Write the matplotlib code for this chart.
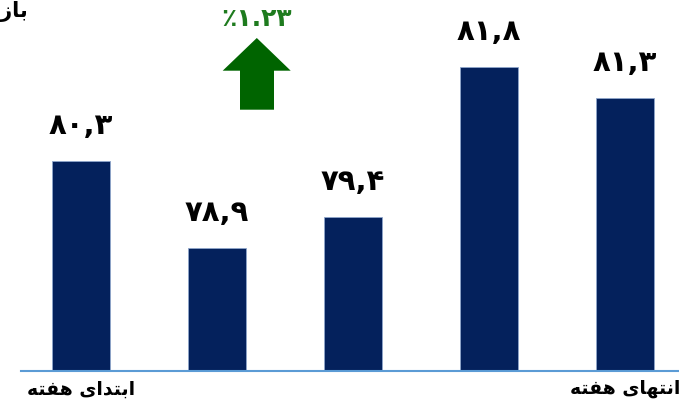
import matplotlib
matplotlib.use("Agg")
import matplotlib.pyplot as plt
from matplotlib.patches import Polygon
import numpy as np

# bar values (weekly index)
values = [80.3, 78.9, 79.4, 81.8, 81.3]
# bottom labels, written in presentation forms in visual order (no bidi shaping in matplotlib)
label_start = "\uFEEA\uFE98\uFED4\uFEEB \uFEEF\uFE8D\uFEAA\uFE98\uFE91\uFE8D"   # ابتدای هفته
label_end = "\uFEEA\uFE98\uFED4\uFEEB \uFEEF\uFE8E\uFEEC\uFE98\uFEE7\uFE8D"     # انتهای هفته
bottom_labels = [label_start, "", "", "", label_end]
title_text = "\uFEAD\uFE8D\uFEAF\uFE8E\uFE91"   # بازار (cut off at left edge, as in the original)
change_text = "\u066A\u06F1.\u06F2\u06F3"        # ٪۱.۲۳

persian = str.maketrans("0123456789", "\u06F0\u06F1\u06F2\u06F3\u06F4\u06F5\u06F6\u06F7\u06F8\u06F9")


def to_fa(v):
    return f"{v:.1f}".replace(".", ",").translate(persian)


W, H = 679, 410
fig = plt.figure(figsize=(W / 100, H / 100), dpi=100)
ax = fig.add_axes([0, 0, 1, 1])

base = 76.92
px_per_unit = 62.3
x = np.arange(len(values))
navy = "#04215c"

ax.bar(x, np.array(values) - base, bottom=base, width=0.42,
       color=navy, edgecolor="#8fa6cc", linewidth=0.6)

for xi, v in zip(x, values):
    ax.annotate(to_fa(v), (xi, v), xytext=(0, 16), textcoords="offset points",
                ha="center", va="bottom", fontsize=21, fontweight="bold",
                color="black")

for xi, lab in zip(x, bottom_labels):
    if lab:
        ax.annotate(lab, (xi, base), xytext=(0, -5), textcoords="offset points",
                    ha="center", va="top", fontsize=13.5, fontweight="bold",
                    color="black")

# scale: bar centers 136 px apart, first at 81 px
ax.set_xlim(-81 / 136, (W - 81) / 136)
ax.set_ylim(base - (H - 372.3) / px_per_unit, base + 372.3 / px_per_unit)

# baseline
ax.axhline(base, xmin=21 / W, xmax=1, color="#5b9bd5", linewidth=1.5, zorder=3)

ax.axis("off")

# green "up" arrow with percentage
arrow_px = [(240, 110.7), (240, 71.7), (222.7, 71.7), (256.8, 39),
            (290.7, 71.7), (274, 71.7), (274, 110.7)]
arrow = Polygon([(px / W, 1 - py / H) for px, py in arrow_px], closed=True,
                transform=fig.transFigure, facecolor="#006400", edgecolor="none")
fig.patches.append(arrow)
fig.text(256.8 / W, 1 - 19 / H, change_text, ha="center", va="center",
         fontsize=18, fontweight="bold", color="#1e7b1e")

fig.text(29 / W, 1 - 11 / H, title_text, ha="right", va="center",
         fontsize=15, fontweight="bold", color="black")

fig.savefig("out.png", dpi=100)
